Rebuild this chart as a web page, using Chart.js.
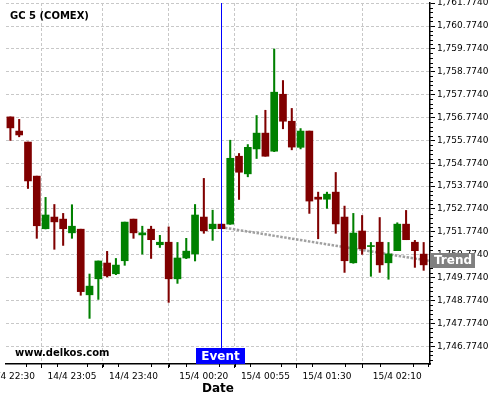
<!DOCTYPE html>
<html>
<head>
<meta charset="utf-8">
<script src="https://cdn.jsdelivr.net/npm/chart.js@4.4.1/dist/chart.umd.min.js"></script>
<style>
  html, body { margin: 0; padding: 0; background: #fff; }
</style>
</head>
<body>
<canvas id="myChart" width="500" height="400"></canvas>
<script>
// 5 minute candles, GC 5 (COMEX)
const times = [
    '14/4 22:30', '14/4 22:35', '14/4 22:40', '14/4 22:45', '14/4 22:50', '14/4 22:55',
    '14/4 23:00', '14/4 23:05', '14/4 23:10', '14/4 23:15', '14/4 23:20', '14/4 23:25',
    '14/4 23:30', '14/4 23:35', '14/4 23:40', '14/4 23:45', '14/4 23:50', '14/4 23:55',
    '15/4 00:00', '15/4 00:05', '15/4 00:10', '15/4 00:15', '15/4 00:20', '15/4 00:25',
    '15/4 00:30', '15/4 00:35', '15/4 00:40', '15/4 00:45', '15/4 00:50', '15/4 00:55',
    '15/4 01:00', '15/4 01:05', '15/4 01:10', '15/4 01:15', '15/4 01:20', '15/4 01:25',
    '15/4 01:30', '15/4 01:35', '15/4 01:40', '15/4 01:45', '15/4 01:50', '15/4 01:55',
    '15/4 02:00', '15/4 02:05', '15/4 02:10', '15/4 02:15', '15/4 02:20', '15/4 02:25'
];
const open = [
    1756.80, 1756.18, 1755.70, 1754.21, 1751.91, 1752.42, 1752.33, 1751.73,
    1751.89, 1749.02, 1749.72, 1750.41, 1749.94, 1750.51, 1752.33, 1751.64,
    1751.89, 1751.21, 1751.32, 1749.72, 1750.63, 1750.81, 1752.42, 1751.91,
    1752.11, 1752.11, 1755.08, 1754.31, 1755.40, 1756.09, 1755.30, 1757.79,
    1756.61, 1755.47, 1756.18, 1753.29, 1753.20, 1753.51, 1752.42, 1750.42,
    1751.81, 1751.13, 1751.32, 1750.42, 1750.95, 1752.11, 1751.32, 1750.80
];
const high = [
    1756.80, 1756.69, 1755.70, 1754.21, 1753.28, 1752.97, 1752.58, 1752.96,
    1751.89, 1749.93, 1750.50, 1750.92, 1750.61, 1752.20, 1752.33, 1752.02,
    1752.02, 1751.62, 1751.99, 1751.31, 1751.49, 1752.97, 1754.11, 1752.72,
    1752.11, 1755.78, 1755.20, 1755.59, 1756.86, 1757.09, 1759.77, 1758.39,
    1757.17, 1756.29, 1756.18, 1753.51, 1753.51, 1754.37, 1752.90, 1752.58,
    1752.49, 1751.31, 1752.40, 1751.31, 1752.17, 1752.71, 1751.40, 1751.31
];
const low = [
    1755.77, 1755.93, 1753.67, 1751.49, 1751.90, 1751.01, 1751.18, 1751.49,
    1749.00, 1747.99, 1748.82, 1749.80, 1749.90, 1750.31, 1751.49, 1750.80,
    1750.61, 1751.09, 1748.69, 1749.52, 1750.60, 1750.50, 1751.71, 1751.40,
    1751.91, 1752.10, 1753.19, 1754.18, 1754.98, 1755.08, 1755.28, 1756.28,
    1755.36, 1755.40, 1752.58, 1751.47, 1752.80, 1751.71, 1750.00, 1750.40,
    1750.79, 1749.83, 1750.00, 1749.70, 1750.95, 1751.43, 1750.22, 1750.09
];
const close = [
    1756.32, 1756.01, 1754.00, 1752.04, 1752.51, 1752.21, 1751.91, 1752.02,
    1749.16, 1749.40, 1750.50, 1749.85, 1750.32, 1752.20, 1751.73, 1751.73,
    1751.43, 1751.32, 1749.72, 1750.63, 1750.93, 1752.51, 1751.82, 1752.11,
    1751.91, 1754.99, 1754.38, 1755.47, 1756.09, 1755.08, 1757.88, 1756.61,
    1755.48, 1756.18, 1753.12, 1753.20, 1753.42, 1752.12, 1750.51, 1751.72,
    1751.03, 1751.16, 1750.33, 1750.81, 1752.11, 1751.43, 1750.95, 1750.33
];

const xTickLabels = ['14/4 22:30', '14/4 23:05', '14/4 23:40', '15/4 00:20', '15/4 00:55', '15/4 01:30', '15/4 02:10'];
const yTicks = [
    1746.774, 1747.774, 1748.774, 1749.774, 1750.774, 1751.774, 1752.774, 1753.774,
    1754.774, 1755.774, 1756.774, 1757.774, 1758.774, 1759.774, 1760.774, 1761.774
];

const eventTime = '15/4 00:30';
const trendPoints = [{x: 24.4, y: 1751.95}, {x: 47.72, y: 1750.50}];

const UP = '#008000';
const DOWN = '#800000';
const colors = open.map((o, i) => close[i] >= o ? UP : DOWN);
const xTickIdx = xTickLabels.map(t => times.indexOf(t));

Chart.defaults.font.family = 'DejaVu Sans';
Chart.defaults.color = '#000';

const extras = {
    id: 'extras',
    afterDatasetsDraw(chart) {
        const {ctx, chartArea, scales: {x}} = chart;
        const ex = Math.round(x.getPixelForValue(times.indexOf(eventTime))) + 0.5;
        ctx.save();
        ctx.strokeStyle = '#0000ff';
        ctx.lineWidth = 1;
        ctx.beginPath();
        ctx.moveTo(ex, chartArea.top);
        ctx.lineTo(ex, chartArea.bottom);
        ctx.stroke();
        ctx.restore();
    },
    afterDraw(chart) {
        const {ctx, chartArea, scales: {x, y}} = chart;
        ctx.save();
        // minor ticks
        ctx.strokeStyle = '#000';
        ctx.lineWidth = 1;
        ctx.beginPath();
        for (let k = -5; k <= 80; k++) {
            if (k % 5 === 0) continue;
            const v = yTicks[0] + k * 0.2;
            if (v < y.min || v > y.max) continue;
            const py = Math.round(y.getPixelForValue(v)) + 0.5;
            ctx.moveTo(chartArea.right, py);
            ctx.lineTo(chartArea.right + 3, py);
        }
        const minorX = [];
        for (let i = 0; i < xTickIdx.length - 1; i++) {
            const a = xTickIdx[i], b = xTickIdx[i + 1];
            for (let j = 1; j < 4; j++) minorX.push(a + (b - a) * j / 4);
        }
        for (let v = xTickIdx[xTickIdx.length - 1] + 1.75; v < x.max; v += 1.75) minorX.push(v);
        minorX.forEach(v => {
            const px = Math.round(x.getPixelForValue(v)) + 0.5;
            ctx.moveTo(px, chartArea.bottom);
            ctx.lineTo(px, chartArea.bottom + 3);
        });
        ctx.stroke();

        // texts
        ctx.fillStyle = '#000';
        ctx.font = 'bold 10px "DejaVu Sans"';
        ctx.textAlign = 'left';
        ctx.textBaseline = 'middle';
        ctx.fillText('GC 5 (COMEX)', 10, 16);
        ctx.fillText('www.delkos.com', 15, 353);

        // event label
        const ex = x.getPixelForValue(times.indexOf(eventTime));
        ctx.fillStyle = '#0000ff';
        ctx.fillRect(Math.round(ex) - 25, chartArea.bottom - 16, 49, 16);
        ctx.fillStyle = '#fff';
        ctx.font = 'bold 12px "DejaVu Sans"';
        ctx.textAlign = 'center';
        ctx.fillText('Event', Math.round(ex) - 0.5, chartArea.bottom - 7.5);

        // trend label
        const last = trendPoints[trendPoints.length - 1];
        const ty = y.getPixelForValue(last.y);
        ctx.fillStyle = '#808080';
        ctx.fillRect(chartArea.right, Math.round(ty) - 8, 45, 15);
        ctx.fillStyle = '#fff';
        ctx.textAlign = 'left';
        ctx.fillText('Trend', chartArea.right + 4, Math.round(ty) - 0.5);
        ctx.restore();
    }
};

const ctx = document.getElementById('myChart').getContext('2d');

new Chart(ctx, {
    type: 'bar',
    data: {
        datasets: [{
            label: 'body',
            data: times.map((t, i) => ({x: i, y: [open[i], close[i]]})),
            backgroundColor: colors,
            borderWidth: 0,
            barThickness: 7,
            minBarLength: 1,
            grouped: false
        }, {
            label: 'wick',
            data: times.map((t, i) => ({x: i, y: [low[i], high[i]]})),
            backgroundColor: colors,
            borderWidth: 0,
            barThickness: 1.4,
            grouped: false
        }, {
            type: 'line',
            label: 'Trend',
            data: trendPoints,
            borderColor: 'rgba(150,150,150,0.9)',
            borderWidth: 2.5,
            borderDash: [2.5, 1.5],
            pointRadius: 0
        }]
    },
    options: {
        responsive: false,
        animation: false,
        layout: { padding: { left: 6, top: 3, right: 0, bottom: 0 } },
        plugins: {
            legend: { display: false },
            tooltip: { enabled: false }
        },
        scales: {
            x: {
                type: 'linear',
                min: -0.5,
                max: 47.72,
                offset: false,
                afterBuildTicks: s => { s.ticks = xTickIdx.map(v => ({value: v})); },
                afterFit: s => { s.height = 36; s.paddingLeft = 0; s.paddingRight = 0; },
                ticks: {
                    autoSkip: false,
                    maxRotation: 0,
                    minRotation: 0,
                    padding: 3,
                    font: { size: 9 },
                    callback: v => times[v]
                },
                grid: {
                    color: '#c8c8c8',
                    lineWidth: 1,
                    tickLength: 4,
                    tickColor: '#000',
                    tickWidth: 1
                },
                border: { display: true, color: '#000', width: 1.5, dash: [3, 2] },
                title: {
                    display: true,
                    text: 'Date',
                    font: { size: 12, weight: 'bold' },
                    padding: { top: 0, bottom: 4 }
                }
            },
            y: {
                position: 'right',
                min: 1745.995,
                max: 1761.78,
                afterBuildTicks: s => { s.ticks = yTicks.map(v => ({value: v})); },
                afterFit: s => { s.width = 70; s.paddingTop = 0; s.paddingBottom = 0; },
                ticks: {
                    padding: 2,
                    font: { size: 9 },
                    callback: v => v.toLocaleString('en-US', {minimumFractionDigits: 4, maximumFractionDigits: 4})
                },
                grid: {
                    color: '#c8c8c8',
                    lineWidth: 1,
                    tickLength: 5,
                    tickColor: '#000',
                    tickWidth: 1
                },
                border: { display: true, color: '#000', width: 1.5, dash: [3, 2] }
            }
        }
    },
    plugins: [extras]
});
</script>
</body>
</html>
